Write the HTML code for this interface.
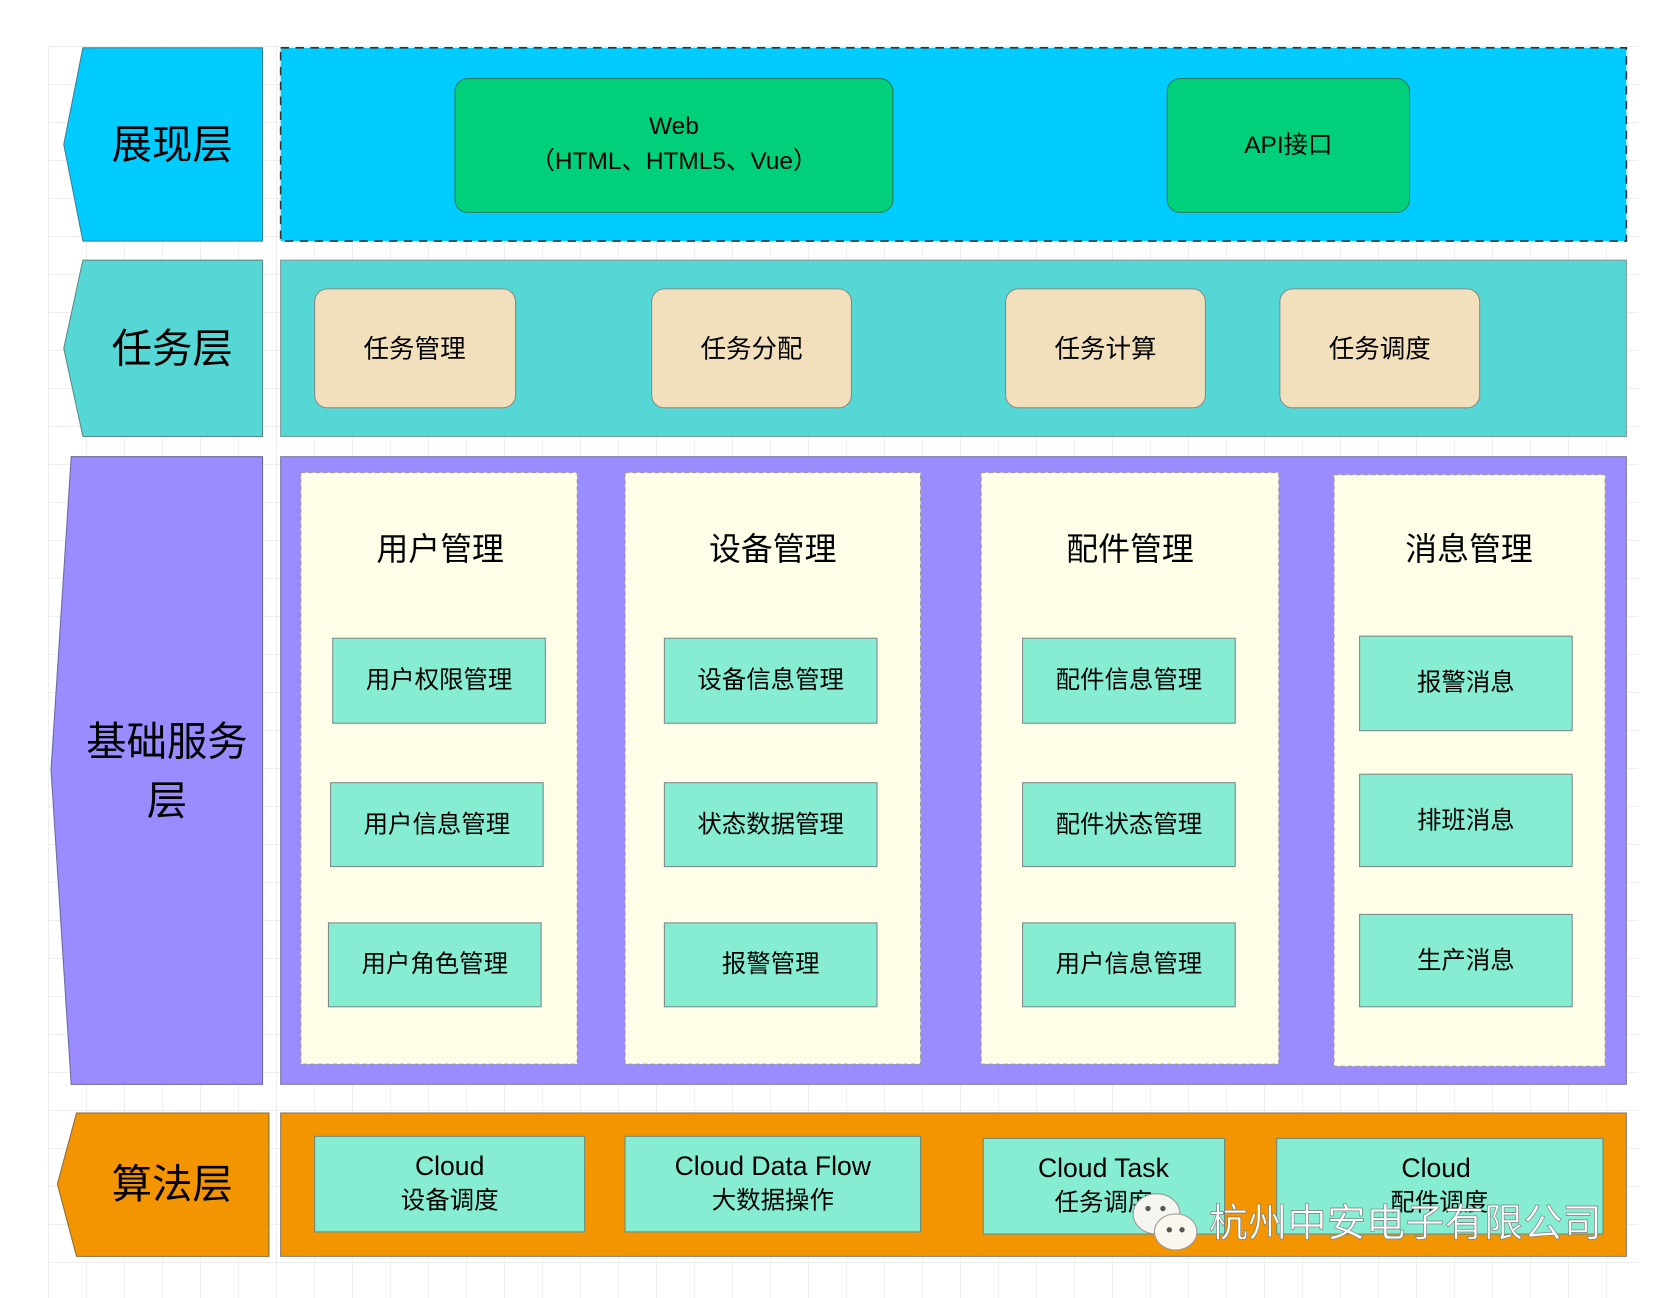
<!DOCTYPE html>
<html><head><meta charset="utf-8"><style>
html,body{margin:0;padding:0;background:#fff}
svg{display:block}
text{font-family:"Liberation Sans","Noto Sans CJK SC",sans-serif;fill:#000;text-anchor:middle;dominant-baseline:central}
</style></head><body>
<svg width="1666" height="1298" viewBox="0 0 1666 1298" xmlns="http://www.w3.org/2000/svg">
<defs>
<pattern id="g" x="48" y="46" width="38" height="38" patternUnits="userSpaceOnUse">
<path d="M0 0H38M0 0V38" stroke="#e4e4e4" stroke-width="1.2" fill="none"/>
</pattern>
</defs>
<rect x="48" y="46" width="1590" height="1252" fill="url(#g)"/>
<g transform="scale(1.063,1.062)">
<!-- Row 1 -->
<polygon points="78,45 247,45 247,227 78,227 60,136" fill="#00CCFF" stroke="#3a7f99" stroke-width="1"/>
<text x="162" y="136" font-size="38">展现层</text>
<rect x="264" y="45" width="1266" height="182" fill="#00CCFF" stroke="#333" stroke-width="1.5" stroke-dasharray="8,6"/>
<rect x="428" y="74" width="412" height="126" rx="12" fill="#00D07A" stroke="#2a7a5a"/>
<text x="634" y="119" font-size="23">Web</text>
<text x="634" y="152" font-size="23">（HTML、HTML5、Vue）</text>
<rect x="1098" y="74" width="228" height="126" rx="12" fill="#00D07A" stroke="#2a7a5a"/>
<text x="1212" y="137" font-size="23">API接口</text>
<!-- Row 2 -->
<polygon points="78,245 247,245 247,411 78,411 60,328" fill="#55D8D5" stroke="#5a8a88" stroke-width="1"/>
<text x="162" y="328" font-size="38">任务层</text>
<rect x="264" y="245" width="1266" height="166" fill="#55D8D5" stroke="#7a9a98"/>
<g fill="#F2E0BD" stroke="#888">
<rect x="296" y="272" width="189" height="112" rx="12"/>
<rect x="613" y="272" width="188" height="112" rx="12"/>
<rect x="946" y="272" width="188" height="112" rx="12"/>
<rect x="1204" y="272" width="188" height="112" rx="12"/>
</g>
<text x="390" y="329" font-size="24">任务管理</text>
<text x="707" y="329" font-size="24">任务分配</text>
<text x="1040" y="329" font-size="24">任务计算</text>
<text x="1298" y="329" font-size="24">任务调度</text>
<!-- Row 3 -->
<polygon points="67,430 247,430 247,1021 67,1021 48,725" fill="#9A8CFF" stroke="#6a6aa0" stroke-width="1"/>
<text x="157" y="698" font-size="38">基础服务</text>
<text x="157" y="754" font-size="38">层</text>
<rect x="264" y="430" width="1266" height="591" fill="#9A8CFF" stroke="#7a7aa8"/>
<g fill="#FEFEE8" stroke="#999" stroke-dasharray="4,3">
<rect x="283" y="445" width="260" height="557"/>
<rect x="588" y="445" width="278" height="557"/>
<rect x="923" y="445" width="280" height="557"/>
<rect x="1255" y="447" width="255" height="557"/>
</g>
<text x="414" y="517" font-size="30">用户管理</text>
<text x="727" y="517" font-size="30">设备管理</text>
<text x="1063" y="517" font-size="30">配件管理</text>
<text x="1382" y="517" font-size="30">消息管理</text>
<g fill="#86EDD3" stroke="#7a8a88">
<rect x="313" y="601" width="200" height="80"/>
<rect x="311" y="737" width="200" height="79"/>
<rect x="309" y="869" width="200" height="79"/>
<rect x="625" y="601" width="200" height="80"/>
<rect x="625" y="737" width="200" height="79"/>
<rect x="625" y="869" width="200" height="79"/>
<rect x="962" y="601" width="200" height="80"/>
<rect x="962" y="737" width="200" height="79"/>
<rect x="962" y="869" width="200" height="79"/>
<rect x="1279" y="599" width="200" height="89"/>
<rect x="1279" y="729" width="200" height="87"/>
<rect x="1279" y="861" width="200" height="87"/>
</g>
<g font-size="23">
<text x="413" y="641">用户权限管理</text>
<text x="411" y="777">用户信息管理</text>
<text x="409" y="908">用户角色管理</text>
<text x="725" y="641">设备信息管理</text>
<text x="725" y="777">状态数据管理</text>
<text x="725" y="908">报警管理</text>
<text x="1062" y="641">配件信息管理</text>
<text x="1062" y="777">配件状态管理</text>
<text x="1062" y="908">用户信息管理</text>
<text x="1379" y="643">报警消息</text>
<text x="1379" y="773">排班消息</text>
<text x="1379" y="905">生产消息</text>
</g>
<!-- Row 4 -->
<polygon points="72,1048 253,1048 253,1183 72,1183 54,1115" fill="#F39500" stroke="#8a6a3a" stroke-width="1"/>
<text x="162" y="1115" font-size="38">算法层</text>
<rect x="264" y="1048" width="1266" height="135" fill="#F39500" stroke="#8a7a6a"/>
<g fill="#86EDD3" stroke="#6a8a80">
<rect x="296" y="1070" width="254" height="90"/>
<rect x="588" y="1070" width="278" height="90"/>
<rect x="925" y="1072" width="227" height="90"/>
<rect x="1201" y="1072" width="307" height="90"/>
</g>
<g font-size="25">
<text x="423" y="1098">Cloud</text>
<text x="727" y="1098">Cloud Data Flow</text>
<text x="1038" y="1100">Cloud Task</text>
<text x="1351" y="1100">Cloud</text>
</g>
<g font-size="23">
<text x="423" y="1131">设备调度</text>
<text x="727" y="1131">大数据操作</text>
<text x="1038" y="1133">任务调度</text>
<text x="1354" y="1133">配件调度</text>
</g>
<!-- watermark -->
<ellipse cx="1088" cy="1143" rx="22" ry="19" fill="#f4f4f0" stroke="#999" stroke-width="1"/>
<ellipse cx="1106" cy="1160" rx="20" ry="17" fill="#fbf6ee" stroke="#999" stroke-width="1"/>
<circle cx="1080" cy="1138" r="2.5" fill="#555"/><circle cx="1094" cy="1138" r="2.5" fill="#555"/>
<circle cx="1100" cy="1158" r="2.5" fill="#555"/><circle cx="1112" cy="1158" r="2.5" fill="#555"/>
<text x="1322" y="1152" font-size="37" style="fill:#fff" stroke="#777" stroke-width="0.6">杭州中安电子有限公司</text>
</g>
</svg>
</body></html>
